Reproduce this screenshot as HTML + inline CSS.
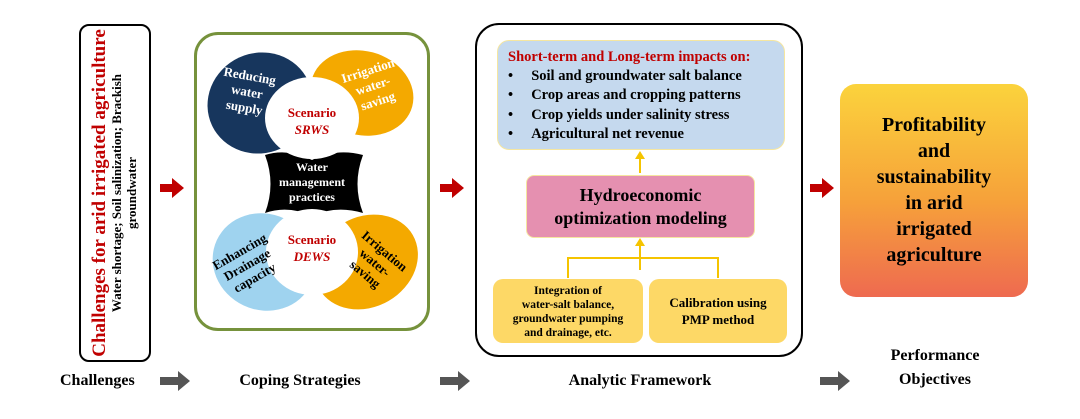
<!DOCTYPE html>
<html><head><style>
body{margin:0;width:1080px;height:419px;background:#fff;position:relative;overflow:hidden;font-family:"Liberation Serif",serif;font-weight:bold}
.a{position:absolute}
.c{text-align:center}
</style></head><body>
<!-- left box -->
<div class="a" style="left:79px;top:24px;width:72px;height:338px;border:2px solid #000;border-radius:10px;box-sizing:border-box"></div>
<div class="a c" style="left:115px;top:193px;width:330px;transform:translate(-50%,-50%) rotate(-90deg);line-height:18px">
<div style="color:#c00000;font-size:19px">Challenges for arid irrigated agriculture</div>
<div style="font-size:13px;line-height:15px">Water shortage; Soil salinization; Brackish<br>groundwater</div></div>
<!-- green box -->
<div class="a" style="left:194px;top:32px;width:236px;height:299px;border:3px solid #76923c;border-radius:24px;box-sizing:border-box"></div>
<svg class="a" style="left:0;top:0" width="1080" height="419">
<ellipse cx="260" cy="103" rx="53" ry="50" transform="rotate(-25 260 103)" fill="#17365d"/>
<ellipse cx="362" cy="93" rx="52" ry="42" transform="rotate(15 362 93)" fill="#f4a900"/>
<ellipse cx="264" cy="262" rx="52" ry="48" transform="rotate(25 264 262)" fill="#9fd3ef"/>
<ellipse cx="366" cy="262" rx="54" ry="45" transform="rotate(-30 366 262)" fill="#f4a900"/>
<path d="M265 155 Q288 148 312 160 Q336 148 363 155 Q352 184 363 213 Q336 205 312 216 Q288 205 265 213 Q276 184 265 155Z" fill="#000"/>
<ellipse cx="312" cy="118" rx="47" ry="41" fill="#fff"/>
<ellipse cx="312" cy="252" rx="46" ry="43" fill="#fff"/>
<!-- analytic connectors -->
<path d="M640 173V158M640 270V245M568 278V258H718V278" stroke="#f5c400" stroke-width="2" fill="none"/>
<path d="M635 159l5-8 5 8zM635 246l5-8 5 8z" fill="#f5c400"/>
<!-- red arrows -->
<path d="M160 184h12v-6l12 10-12 10v-6h-12z" fill="#c00000"/>
<path d="M440 184h12v-6l12 10-12 10v-6h-12z" fill="#c00000"/>
<path d="M810 184h12v-6l12 10-12 10v-6h-12z" fill="#c00000"/>
<!-- gray arrows -->
<path d="M160 377h18v-6l12 10-12 10v-6h-18z" fill="#555"/>
<path d="M440 377h18v-6l12 10-12 10v-6h-18z" fill="#555"/>
<path d="M820 377h18v-6l12 10-12 10v-6h-18z" fill="#555"/>
</svg>
<div class="a c" style="left:212px;top:68px;width:70px;color:#fff;font-size:13px;line-height:16px;transform:rotate(10deg)">Reducing<br>water<br>supply</div>
<div class="a c" style="left:338px;top:62px;width:70px;color:#fff;font-size:13px;line-height:16px;transform:rotate(-18deg)">Irrigation<br>water-<br>saving</div>
<div class="a c" style="left:277px;top:104px;width:70px;color:#c00000;font-size:13px;line-height:17px">Scenario<br><i>SRWS</i></div>
<div class="a c" style="left:272px;top:160px;width:80px;color:#fff;font-size:12px;line-height:15px">Water<br>management<br>practices</div>
<div class="a c" style="left:277px;top:231px;width:70px;color:#c00000;font-size:13px;line-height:17px">Scenario<br><i>DEWS</i></div>
<div class="a c" style="left:212px;top:242px;width:70px;color:#000;font-size:13px;line-height:15px;transform:rotate(-30deg)">Enhancing<br>Drainage<br>capacity</div>
<div class="a c" style="left:340px;top:240px;width:70px;color:#000;font-size:13px;line-height:15px;transform:rotate(40deg)">Irrigation<br>water-<br>saving</div>
<!-- analytic box -->
<div class="a" style="left:475px;top:23px;width:328px;height:334px;border:2px solid #000;border-radius:24px;box-sizing:border-box"></div>
<div class="a" style="left:497px;top:40px;width:288px;height:110px;background:#c5d9ee;border:1px solid #f5e6a0;border-radius:12px;box-sizing:border-box;padding:7px 0 0 10px;font-size:14.5px;line-height:19.2px;white-space:nowrap">
<div style="color:#c00000">Short-term and Long-term impacts on:</div>
<div>•&nbsp;&nbsp;&nbsp;&nbsp;&nbsp;Soil and groundwater salt balance</div>
<div>•&nbsp;&nbsp;&nbsp;&nbsp;&nbsp;Crop areas and cropping patterns</div>
<div>•&nbsp;&nbsp;&nbsp;&nbsp;&nbsp;Crop yields under salinity stress</div>
<div>•&nbsp;&nbsp;&nbsp;&nbsp;&nbsp;Agricultural net revenue</div></div>
<div class="a c" style="left:526px;top:175px;width:229px;height:63px;background:#e590b0;border:1px solid #f5e6a0;border-radius:8px;box-sizing:border-box;font-size:18px;line-height:23px;padding-top:8px">Hydroeconomic<br>optimization modeling</div>
<div class="a c" style="left:493px;top:279px;width:150px;height:64px;background:#fdd866;border-radius:10px;box-sizing:border-box;font-size:11.5px;line-height:14px;padding-top:5px">Integration of<br>water-salt balance,<br>groundwater pumping<br>and drainage, etc.</div>
<div class="a c" style="left:649px;top:279px;width:138px;height:64px;background:#fdd866;border-radius:10px;box-sizing:border-box;font-size:13px;line-height:17px;padding-top:15px">Calibration using<br>PMP method</div>
<!-- right box -->
<div class="a c" style="left:840px;top:84px;width:188px;height:213px;border-radius:16px;background:linear-gradient(#fbd33c,#f6a13a 55%,#ee6a50);font-size:20px;line-height:26px;padding-top:28px;box-sizing:border-box">Profitability<br>and<br>sustainability<br>in arid<br>irrigated<br>agriculture</div>
<!-- bottom labels -->
<div class="a" style="left:60px;top:372px;font-size:16px">Challenges</div>
<div class="a c" style="left:200px;top:372px;width:200px;font-size:16px">Coping Strategies</div>
<div class="a c" style="left:540px;top:372px;width:200px;font-size:16px">Analytic Framework</div>
<div class="a c" style="left:855px;top:344px;width:160px;font-size:16px;line-height:24px">Performance<br>Objectives</div>
</body></html>
